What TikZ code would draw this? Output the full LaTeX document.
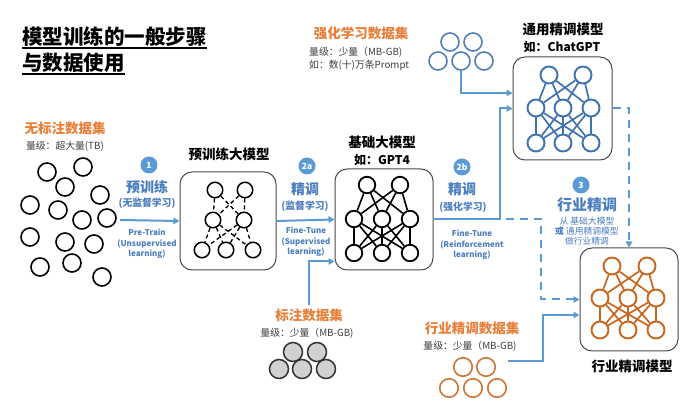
\documentclass[tikz,border=0pt]{standalone}
\usepackage{fontspec}
\setmainfont{Noto Sans CJK SC}
\usetikzlibrary{arrows.meta,calc}
\definecolor{lblue}{HTML}{5B9BD5}
\definecolor{tblue}{HTML}{4A7EC0}
\definecolor{nblue}{HTML}{3F72AE}
\definecolor{orangeT}{HTML}{E8803A}
\definecolor{orangeN}{HTML}{C8661E}
\definecolor{gtext}{HTML}{404040}
\definecolor{boxc}{HTML}{4A4A4A}
\tikzset{
  flow/.style={lblue, line width=2pt, -{Triangle[length=6pt,width=6.5pt]}},
  dflow/.style={flow, dash pattern=on 8pt off 6pt},
  mbox/.style={draw=boxc, line width=1pt, rounded corners=12pt, inner sep=0},
  blk/.style={circle, draw=black, line width=1.6pt, minimum size=18pt, inner sep=0},
  pn/.style={circle, draw=black, line width=1.5pt, minimum size=15.5pt, inner sep=0},
  bn/.style={circle, draw=black, line width=1.8pt, minimum size=16.5pt, inner sep=0},
  tn/.style={circle, draw=nblue, line width=1.9pt, minimum size=17pt, inner sep=0},
  on/.style={circle, draw=orangeN, line width=1.9pt, minimum size=17pt, inner sep=0},
  gd/.style={circle, draw=black!80, fill=black!18, line width=1.5pt, minimum size=19pt, inner sep=0},
  od/.style={circle, draw=orangeN!90, line width=1.6pt, minimum size=18.5pt, inner sep=0},
  sd/.style={circle, draw=nblue!90, line width=1.6pt, minimum size=18pt, inner sep=0},
  num/.style={circle, fill=lblue, text=white, font=\bfseries\fontsize{8.5}{9}\selectfont, minimum size=17pt, inner sep=0},
  titl/.style={font=\bfseries\fontsize{20.5}{22}\selectfont, inner sep=0},
  btit/.style={font=\bfseries\fontsize{13.5}{15}\selectfont, inner sep=0},
  bsub/.style={font=\bfseries\fontsize{12}{13}\selectfont, inner sep=0},
  otit/.style={text=orangeT, font=\bfseries\fontsize{13.5}{15}\selectfont, inner sep=0},
  gsub/.style={text=gtext, font=\fontsize{9.8}{11}\selectfont, inner sep=0},
  scn/.style={text=tblue, font=\bfseries\fontsize{14}{15}\selectfont, inner sep=0},
  ssub/.style={text=tblue, font=\bfseries\fontsize{9.8}{11}\selectfont, inner sep=0},
  sen/.style={text=tblue, font=\bfseries\fontsize{8}{10.5}\selectfont, inner sep=0, align=center},
}
\begin{document}
\begin{tikzpicture}[x=1pt,y=-1pt]
\useasboundingbox (0,0) rectangle (686,411);
\fill[white] (0,0) rectangle (686,411);

% title
\node[titl, anchor=base west] (t1) at (22,44.5) {模型训练的一般步骤};
\node[titl, anchor=base west] (t2) at (22,70.5) {与数据使用};
\draw[line width=2pt] ([yshift=-3.5pt]t1.base west) -- ([yshift=-3.5pt]t1.base east);
\draw[line width=2pt] ([yshift=-3.5pt]t2.base west) -- ([yshift=-3.5pt]t2.base east);

% unlabeled data
\node[otit] (l1) at (65,128) {无标注数据集};
\node[gsub] (l1s) at (65,146) {量级：超大量(TB)};
\foreach \x/\y [count=\i] in {47/172, 83/167, 65/187, 100/195, 30/205, 58/210, 82/220, 107/218, 30/237, 65/242, 94/244, 40/267, 72/263, 102/277}
  \node[blk] (u\i) at (\x,\y) {};

% step 1
\node[num] (n1) at (149,165) {1};
\node[scn] (s1a) at (147,187) {预训练};
\node[ssub] (s1b) at (147,203) {(无监督学习)};
\node[sen] (s1c) at (147,244) {Pre-Train\\(Unsupervised\\learning)};

% pretrain box
\node[btit] (ptt) at (229,154) {预训练大模型};
\node[mbox, minimum width=96pt, minimum height=98pt] (pt) at (228,221) {};
\foreach \x/\y [count=\i] in {215/190, 245/190, 213/220, 244/220, 202/250, 226/250, 253/250}
  \node[pn] (p\i) at (\x,\y) {};
\foreach \a/\b in {1/3,1/4,2/3,2/4,3/5,3/6,3/7,4/5,4/6,4/7}
  \draw[line width=1.3pt, dash pattern=on 4pt off 3pt] (p\a) -- (p\b);

\coordinate (a1s) at (120,220);
\draw[flow] (a1s) -- (pt.west);

% step 2a
\node[num] (n2a) at (307,166) {2a};
\node[scn] (s2a) at (305,189) {精调};
\node[ssub] (s2b) at (305,206) {(监督学习)};
\node[sen] (s2c) at (306,242) {Fine-Tune\\(Supervised\\learning)};

% base model
\node[btit] (bt1) at (382,142) {基础大模型};
\node[bsub] (bt2) at (382,160) {如：GPT4};
\node[mbox, minimum width=98pt, minimum height=101pt] (bm) at (384,219.5) {};
\foreach \x/\y [count=\i] in {367/185, 400/185, 354/219, 382/219, 410/219, 354/253, 382/253, 410/253}
  \node[bn] (b\i) at (\x,\y) {};
\foreach \a in {1,2} \foreach \b in {3,4,5} \draw[line width=1.6pt] (b\a) -- (b\b);
\foreach \a in {3,4,5} \foreach \b in {6,7,8} \draw[line width=1.6pt] (b\a) -- (b\b);

\draw[flow] (pt.east) -- (bm.west);

% labeled data
\node[otit] (l2) at (309,315) {标注数据集};
\node[gsub] (l2s) at (307,333) {量级：少量（MB-GB)};
\foreach \x/\y [count=\i] in {293/352, 317/352, 279/369, 302/369, 326/369}
  \node[gd] (g\i) at (\x,\y) {};
\draw[flow] ([yshift=3pt]l2.north) |- ($(bm.west)+(0,42)$);

% step 2b
\node[num] (n2b) at (462,167) {2b};
\node[scn] (s3a) at (462,189) {精调};
\node[ssub] (s3b) at (463,207) {(强化学习)};
\node[sen] (s3c) at (472,245) {Fine-Tune\\(Reinforcement\\learning)};

% RL data
\node[otit] (l3) at (361,33) {强化学习数据集};
\node[gsub, anchor=west] (l3s) at (309,52) {量级：少量（MB-GB)};
\node[gsub, anchor=west] (l3t) at (309,66) {如：数(十)万条Prompt};
\foreach \x/\y [count=\i] in {450/42, 473/42, 438/61, 461/61, 484/61}
  \node[sd] (r\i) at (\x,\y) {};

% general fine-tuned model
\node[btit] (tt1) at (563,29) {通用精调模型};
\node[bsub] (tt2) at (562,47) {如：ChatGPT};
\node[mbox, minimum width=99pt, minimum height=103pt] (tr) at (562.5,108.5) {};
\foreach \x/\y [count=\i] in {549/75, 583/75, 536/108, 563/108, 591/108, 536/143, 563/143, 591/143}
  \node[tn] (c\i) at (\x,\y) {};
\foreach \a in {1,2} \foreach \b in {3,4,5} \draw[nblue, line width=1.7pt] (c\a) -- (c\b);
\foreach \a in {3,4,5} \foreach \b in {6,7,8} \draw[nblue, line width=1.7pt] (c\a) -- (c\b);

\draw[flow] (bm.east) -- ++(66,0) |- (tr.west);
\draw[flow] (r4.south) |- ($(tr.west)+(0,-15.5)$);

% industry model
\node[btit] (it) at (632,366) {行业精调模型};
\node[mbox, minimum width=98pt, minimum height=103pt] (ind) at (629,299.5) {};
\foreach \x/\y [count=\i] in {612/266, 647/266, 600/298, 628/298, 656/298, 600/330, 628/330, 656/330}
  \node[on] (d\i) at (\x,\y) {};
\foreach \a in {1,2} \foreach \b in {3,4,5} \draw[orangeN, line width=1.7pt] (d\a) -- (d\b);
\foreach \a in {3,4,5} \foreach \b in {6,7,8} \draw[orangeN, line width=1.7pt] (d\a) -- (d\b);

% step 3
\node[num] (n3) at (581,185) {3};
\node[scn, font=\bfseries\fontsize{15}{16}\selectfont] (s4a) at (587,205) {行业精调};
\node[text=tblue, font=\fontsize{8.8}{10.3}\selectfont, align=center, inner sep=0] (s4b) at (587,231) {从 基础大模型\\{\bfseries 或} 通用精调模型\\做行业精调};

% industry data
\node[otit] (l4) at (472,328) {行业精调数据集};
\node[gsub] (l4s) at (470,346) {量级：少量（MB-GB)};
\foreach \x/\y [count=\i] in {463/367, 486/367, 449/388, 473/388, 497/388}
  \node[od] (o\i) at (\x,\y) {};

\coordinate (dstart) at ($(bm.east)+(72,0)$);
\draw[dflow] (dstart) -- ++(35,0) |- (ind.west);
\draw[dflow] (tr.east) -| (ind.north);
\coordinate (ostart) at (508,361);
\draw[flow] (ostart) -- ++(35,0) |- ($(ind.west)+(0,15.5)$);
\end{tikzpicture}
\end{document}
